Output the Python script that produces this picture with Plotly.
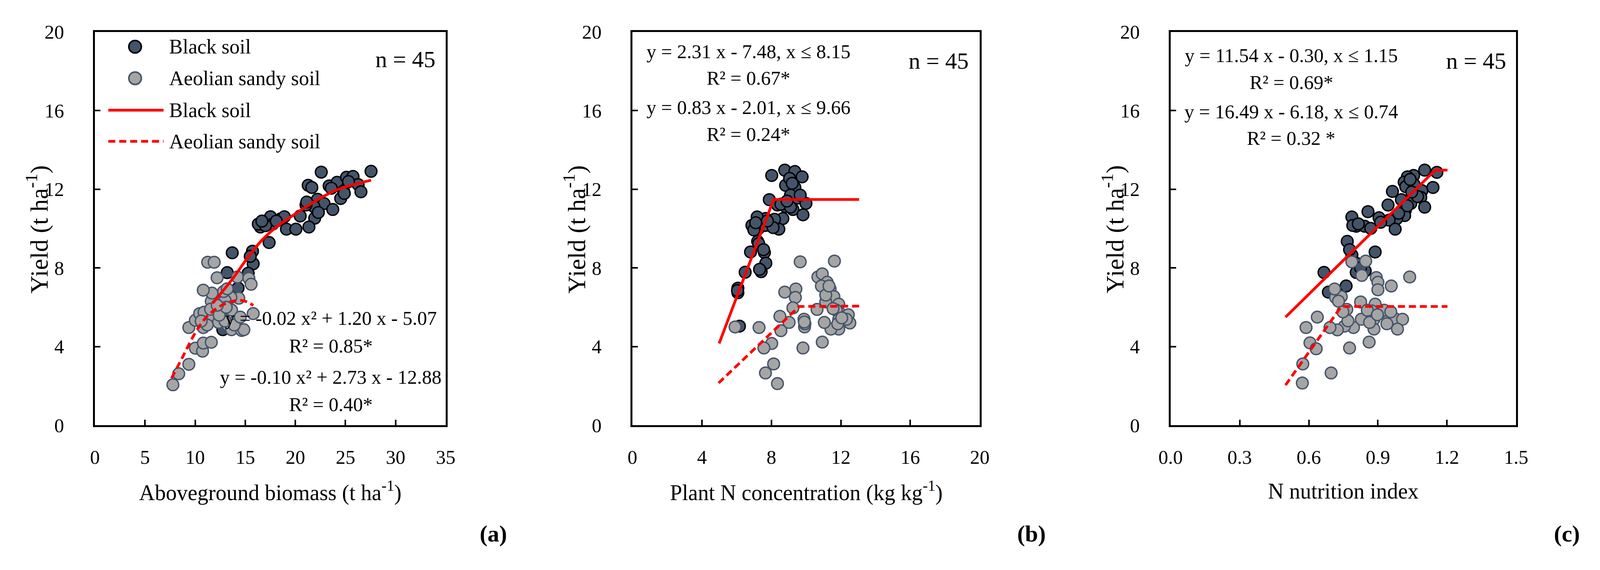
import plotly.graph_objects as go

# the browser viewport is 4096 x 1460, so the figure is drawn to fit it;
# positions below are measured on the 5396 x 1460 reference and used as fractions
REF_W, REF_H = 5396, 1460
W, H = 4080, 1444
FONT = "Liberation Serif, Times New Roman, serif"

# ---- data ----
# (a) yield vs aboveground biomass
biomass_black = [27.55, 22.58, 21.28, 21.64, 23.37, 24.16, 25.10, 25.75, 26.26, 26.54,
                 24.81, 24.52, 22.21, 22.86, 21.85, 21.06, 23.73, 21.93, 21.35, 20.48,
                 16.51, 16.30, 17.52, 17.74, 18.53, 18.90, 19.11, 20.05, 17.02, 17.38,
                 15.72, 15.79, 13.70, 13.20, 15.29, 14.28, 12.76, 25.30, 24.88, 21.13,
                 22.29, 16.66, 18.10, 15.50, 23.59]
yield_black_a = [12.91, 12.87, 12.20, 12.09, 12.17, 12.35, 12.61, 12.65, 12.24, 11.87,
                 11.91, 11.53, 11.49, 11.27, 11.12, 11.20, 10.97, 10.53, 10.08, 10.64,
                 10.08, 10.23, 10.60, 10.23, 10.49, 10.60, 9.97, 9.97, 10.15, 9.29,
                 8.85, 8.21, 8.77, 7.76, 7.73, 6.98, 4.86, 12.39, 11.79, 11.35,
                 10.82, 10.38, 10.38, 8.59, 12.05]
biomass_sandy = [7.78, 8.36, 9.37, 10.02, 10.74, 10.81, 11.61, 9.37, 10.02, 10.45,
                 10.89, 10.81, 11.68, 12.33, 11.61, 11.68, 10.81, 12.19, 11.25, 11.90,
                 13.63, 13.27, 13.63, 14.64, 14.86, 14.35, 13.56, 12.98, 12.84, 14.21,
                 15.36, 15.58, 15.79, 11.54, 12.62, 14.06, 12.98, 13.20, 12.40, 13.90,
                 11.20, 13.10, 14.50, 12.20, 10.60]
yield_sandy_a = [2.06, 2.62, 3.10, 3.92, 3.77, 4.18, 4.22, 4.97, 5.34, 5.68,
                 5.75, 4.97, 5.45, 5.23, 6.31, 6.72, 6.87, 7.50, 8.29, 8.29,
                 5.86, 5.08, 4.86, 4.82, 4.86, 6.46, 6.50, 6.35, 6.80, 7.54,
                 7.47, 7.17, 5.68, 5.90, 5.83, 5.30, 5.30, 6.94, 5.60, 5.10,
                 5.10, 6.00, 5.50, 6.10, 5.30]
fit_black_a_x = [11.75, 13.77, 15.22, 16.66, 18.10, 19.55, 20.99, 22.43, 23.87, 25.32, 27.55]
fit_black_a_y = [6.20, 7.47, 8.51, 9.41, 10.08, 10.60, 11.08, 11.53, 11.91, 12.17, 12.46]
fit_sandy_a_x = [7.64, 8.72, 10.02, 11.18, 12.62, 14.21, 15.22, 15.79]
fit_sandy_a_y = [2.39, 3.44, 4.71, 5.53, 6.09, 6.35, 6.27, 6.09]

# (b) yield vs plant N concentration
conc_black = [8.02, 8.77, 9.35, 9.77, 8.82, 9.35, 9.49, 9.99, 7.88, 8.35,
              8.82, 9.24, 9.82, 8.66, 8.18, 8.43, 7.66, 7.18, 6.88, 7.27,
              7.66, 6.99, 7.21, 6.80, 7.60, 7.68, 7.41, 6.49, 6.07, 6.07,
              6.16, 9.10, 9.05, 8.10, 7.32, 8.55, 9.10, 9.66, 7.10, 7.77,
              7.27, 7.55, 6.05, 9.20, 8.90]
yield_black_b = [12.70, 12.97, 12.90, 12.63, 12.20, 12.09, 11.55, 11.28, 11.47, 11.20,
                 11.12, 10.97, 10.70, 10.51, 10.47, 9.97, 10.51, 10.59, 10.16, 10.01,
                 10.16, 9.93, 9.35, 8.81, 8.78, 8.24, 7.81, 7.78, 6.97, 6.74,
                 5.04, 11.70, 12.55, 10.05, 7.93, 11.24, 11.09, 11.70, 10.30, 10.39,
                 9.24, 8.93, 6.85, 12.30, 11.40]
conc_sandy = [9.66, 11.63, 10.68, 10.93, 11.21, 10.88, 11.38, 11.60, 11.13, 11.88,
              11.88, 11.74, 11.88, 11.88, 11.43, 11.05, 10.93, 10.63, 12.43, 12.52,
              12.32, 8.77, 9.41, 9.38, 9.24, 9.88, 9.91, 9.82, 9.02, 8.49,
              8.55, 8.02, 7.57, 7.29, 5.91, 8.13, 7.66, 8.35, 9.93, 11.55,
              11.13, 11.82, 12.05, 11.32, 9.90]
yield_sandy_b = [8.31, 8.35, 7.54, 7.70, 7.27, 7.08, 6.93, 6.54, 6.27, 6.16,
                 5.77, 5.85, 5.39, 4.89, 4.89, 5.23, 4.23, 5.89, 5.62, 5.20,
                 5.39, 6.77, 6.93, 6.50, 5.97, 5.39, 5.00, 3.93, 5.23, 5.54,
                 4.81, 4.16, 3.93, 4.97, 5.00, 3.12, 2.66, 2.12, 5.16, 5.93,
                 6.62, 5.16, 5.46, 7.08, 5.25]
fit_black_b_x = [4.99, 8.13, 13.05]
fit_black_b_y = [4.16, 11.48, 11.48]
fit_sandy_b_x = [4.96, 9.60, 13.05]
fit_sandy_b_y = [2.15, 6.04, 6.06]

# (c) yield vs N nutrition index
nni_black = [1.103, 1.156, 1.055, 1.028, 1.014, 1.021, 1.057, 1.091, 1.139, 0.963,
             1.002, 1.043, 1.086, 1.103, 0.944, 1.019, 1.016, 0.982, 0.949, 0.975,
             0.905, 0.857, 0.787, 0.806, 0.791, 0.842, 0.869, 0.767, 0.787, 0.888,
             0.806, 0.806, 0.845, 0.666, 0.762, 0.685, 1.072, 0.990, 0.815, 0.777,
             1.047, 1.028, 0.825, 0.912, 1.040]
yield_black_c = [12.97, 12.86, 12.70, 12.63, 12.36, 12.13, 12.24, 11.93, 12.09, 11.89,
                 11.47, 11.28, 11.59, 11.09, 11.20, 10.93, 10.66, 10.51, 10.43, 9.97,
                 10.55, 10.86, 10.59, 10.12, 10.16, 10.12, 10.01, 9.35, 8.66, 8.81,
                 8.24, 7.77, 7.85, 7.77, 7.08, 6.77, 11.63, 10.78, 10.24, 8.93,
                 11.86, 11.16, 8.00, 10.32, 12.50]
nni_sandy = [1.038, 0.847, 0.787, 0.830, 0.893, 0.900, 0.900, 0.958, 0.716, 0.741,
             0.712, 0.825, 0.888, 0.765, 0.874, 0.920, 0.941, 0.973, 1.007, 0.985,
             0.939, 0.883, 0.883, 0.828, 0.794, 0.755, 0.770, 0.724, 0.692, 0.637,
             0.588, 0.605, 0.632, 0.777, 0.862, 0.574, 0.697, 0.572, 0.864, 0.927,
             0.854, 0.729, 0.898, 0.956, 0.748]
yield_sandy_c = [7.54, 8.35, 8.31, 7.62, 7.51, 7.27, 6.89, 7.08, 6.50, 6.54,
                 6.93, 6.27, 6.16, 5.89, 5.81, 5.77, 5.70, 5.43, 5.39, 4.89,
                 5.16, 5.39, 4.89, 5.39, 4.97, 5.04, 5.31, 4.85, 4.97, 5.50,
                 4.97, 4.19, 3.89, 3.93, 4.23, 3.12, 2.66, 2.15, 5.23, 5.85,
                 5.85, 6.31, 5.62, 5.77, 5.77]
fit_black_c_x = [0.499, 1.149, 1.202]
fit_black_c_y = [5.50, 12.97, 12.97]
fit_sandy_c_x = [0.499, 0.741, 1.202]
fit_sandy_c_y = [2.04, 6.04, 6.04]

x_titles = ["Aboveground biomass (t ha<sup>-1</sup>)",
            "Plant N concentration (kg kg<sup>-1</sup>)",
            "N nutrition index"]
y_title = "Yield (t ha<sup>-1</sup>)"
x_ranges = [[0, 35], [0, 20], [0, 1.5]]
x_dticks = [5, 4, 0.3]
x_formats = ["d", "d", ".1f"]
panel_tags = ["(a)", "(b)", "(c)"]
equations = [
    ["y = -0.02 x² + 1.20 x - 5.07", "R² = 0.85*", "y = -0.10 x² + 2.73 x - 12.88", "R² = 0.40*"],
    ["y = 2.31 x - 7.48, x ≤ 8.15", "R² = 0.67*", "y = 0.83 x - 2.01, x ≤ 9.66", "R² = 0.24*"],
    ["y = 11.54 x - 0.30, x ≤ 1.15", "R² = 0.69*", "y = 16.49 x - 6.18, x ≤ 0.74", "R² = 0.32 *"],
]
legend_labels = ["Black soil", "Aeolian sandy soil", "Black soil", "Aeolian sandy soil"]


# ---- layout helpers (reference pixel -> paper fraction) ----
def fx(p):
    return p / REF_W


def fy(p):
    return 1 - p / REF_H


def label(text, x, y, size, **kw):
    d = dict(text=text, x=fx(x), y=fy(y), xref="paper", yref="paper", showarrow=False,
             xanchor="center", yanchor="middle", font=dict(family=FONT, size=size, color="black"))
    d.update(kw)
    return d


boxes = [(274, 1480), (2122, 3316), (3972, 5160)]
TOP, BOTTOM = 48, 1108
BLACK_FILL, GREY_FILL, GREY_EDGE = "#44546A", "#A5A5A5", "#44546A"
RED = "#FF0000"
DASH = "18px,10px"

fig = go.Figure()
series = [
    (biomass_black, yield_black_a, biomass_sandy, yield_sandy_a,
     fit_black_a_x, fit_black_a_y, fit_sandy_a_x, fit_sandy_a_y, "spline"),
    (conc_black, yield_black_b, conc_sandy, yield_sandy_b,
     fit_black_b_x, fit_black_b_y, fit_sandy_b_x, fit_sandy_b_y, "linear"),
    (nni_black, yield_black_c, nni_sandy, yield_sandy_c,
     fit_black_c_x, fit_black_c_y, fit_sandy_c_x, fit_sandy_c_y, "linear"),
]
for i, (bx, by, sx, sy, fbx, fby, fsx, fsy, shape) in enumerate(series):
    xa = "x" if i == 0 else f"x{i + 1}"
    ya = "y" if i == 0 else f"y{i + 1}"
    fig.add_trace(go.Scatter(x=bx, y=by, mode="markers", xaxis=xa, yaxis=ya, name="Black soil",
                             marker=dict(size=30, color=BLACK_FILL, line=dict(color="black", width=3.5))))
    fig.add_trace(go.Scatter(x=sx, y=sy, mode="markers", xaxis=xa, yaxis=ya, name="Aeolian sandy soil",
                             marker=dict(size=30, color=GREY_FILL, line=dict(color=GREY_EDGE, width=3.5))))
    fig.add_trace(go.Scatter(x=fbx, y=fby, mode="lines", xaxis=xa, yaxis=ya, name="Black soil",
                             line=dict(color=RED, width=7, shape=shape)))
    fig.add_trace(go.Scatter(x=fsx, y=fsy, mode="lines", xaxis=xa, yaxis=ya, name="Aeolian sandy soil",
                             line=dict(color=RED, width=7, shape=shape, dash=DASH)))

axis_style = dict(showline=True, mirror=True, linecolor="black", linewidth=5,
                  ticks="inside", ticklen=14, tickwidth=3.5, tickcolor="black",
                  showgrid=False, zeroline=False,
                  tickfont=dict(family=FONT, size=50, color="black"))
annotations = []
tag_x = [1644, 3494, 5335]
for i, (left, right) in enumerate(boxes):
    sfx = "" if i == 0 else str(i + 1)
    fig.update_layout({
        f"xaxis{sfx}": dict(domain=[fx(left), fx(right)], range=x_ranges[i], dtick=x_dticks[i],
                            tick0=0, tickformat=x_formats[i], anchor=f"y{sfx}",
                            ticklabelstandoff=34, **axis_style),
        f"yaxis{sfx}": dict(domain=[fy(BOTTOM), fy(TOP)], range=[0, 20], dtick=4,
                            anchor=f"x{sfx}", ticklabelstandoff=64, **axis_style),
    })
    mid = (left + right) / 2
    annotations.append(label(x_titles[i], mid, 1285, 56))
    annotations.append(label(y_title, left - 198, 580, 64, textangle=-90))
    annotations.append(label("<b>" + panel_tags[i] + "</b>", tag_x[i], 1400, 60))

# n = 45 labels
for xc, yc in [(1341, 122), (3175, 126), (5022, 126)]:
    annotations.append(label("n = 45", xc, yc, 60))

# regression equations
eq_pos = [
    (1085, [819, 894, 978, 1052]),
    (2521, [101, 172, 251, 324]),
    (4387, [112, 184, 263, 335]),
]
for i, (xc, ys) in enumerate(eq_pos):
    for txt, yc in zip(equations[i], ys):
        annotations.append(label(txt, xc, yc, 50))

# legend of panel (a), drawn by hand so the samples keep the original proportions
legend_y = [88, 173, 259, 343]
shapes = []
for yc, fill, edge in [(legend_y[0], BLACK_FILL, "black"), (legend_y[1], GREY_FILL, GREY_EDGE)]:
    shapes.append(dict(type="circle", xref="paper", yref="paper",
                       xsizemode="pixel", ysizemode="pixel", xanchor=fx(412), yanchor=fy(yc),
                       x0=-16, x1=16, y0=-16, y1=16, fillcolor=fill, line=dict(color=edge, width=4)))
shapes.append(dict(type="line", xref="paper", yref="paper", x0=fx(320), x1=fx(510),
                   y0=fy(legend_y[2]), y1=fy(legend_y[2]), line=dict(color=RED, width=7)))
shapes.append(dict(type="line", xref="paper", yref="paper", x0=fx(320), x1=fx(510),
                   y0=fy(legend_y[3]), y1=fy(legend_y[3]), line=dict(color=RED, width=7, dash=DASH)))
for txt, yc in zip(legend_labels, legend_y):
    annotations.append(label(txt, 526, yc, 52, xanchor="left"))

fig.update_layout(width=W, height=H, margin=dict(l=0, r=0, t=0, b=0),
                  paper_bgcolor="white", plot_bgcolor="white", showlegend=False,
                  annotations=annotations, shapes=shapes,
                  font=dict(family=FONT, color="black"))

fig.write_html("out.html")
